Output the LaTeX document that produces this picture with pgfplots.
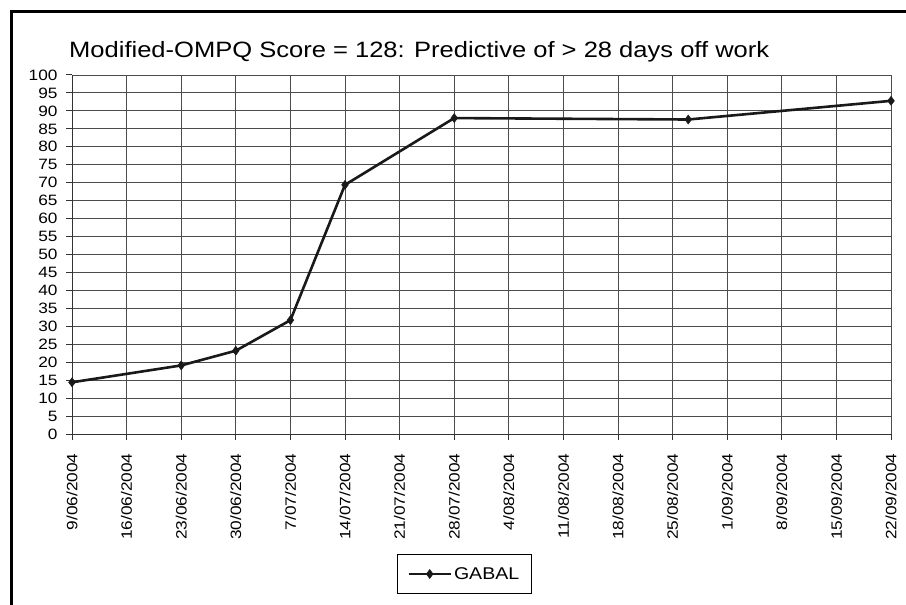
\documentclass[border=0pt]{standalone}
\usepackage{fontspec}
\setmainfont{Liberation Sans}[FakeStretch=1.15]
\usepackage{pgfplots}
\pgfplotsset{compat=1.18}
\begin{document}
\begin{tikzpicture}
\path[use as bounding box] (0,0) rectangle (906bp,605bp);
\fill[white] (0,0) rectangle (906bp,605bp);
\draw[line width=3bp] (11bp,-5bp) -- (11bp,593bp) -- (912bp,593bp);
\node[anchor=base west, font=\fontsize{22.2bp}{26bp}\selectfont, inner sep=0pt] at (69bp,547bp) {Modified-OMPQ Score = 128: Predictive of > 28 days off work};
\begin{axis}[
  at={(72bp,171bp)}, anchor=south west,
  scale only axis, width=819bp, height=359bp,
  xmin=0, xmax=105, ymin=0, ymax=100,
  axis lines=left,
  axis line style={-, line width=1bp, black!80},
  xtick={0,7,...,105},
  xticklabels={9/06/2004,16/06/2004,23/06/2004,30/06/2004,7/07/2004,14/07/2004,21/07/2004,28/07/2004,4/08/2004,11/08/2004,18/08/2004,25/08/2004,1/09/2004,8/09/2004,15/09/2004,22/09/2004},
  ytick={0,5,...,100},
  grid=major,
  major grid style={line width=0.9bp, black!70},
  tick align=outside,
  major tick length=6bp,
  tick style={black!80, line width=1bp},
  xticklabel shift=10bp,
  yticklabel shift=5bp,
  xticklabel style={rotate=90, anchor=east, font=\fontsize{15bp}{15bp}\selectfont},
  yticklabel style={font=\fontsize{15bp}{15bp}\selectfont},
  /pgf/number format/assume math mode=true,
  clip=false,
  legend style={at={(0.479,-0.39)}, anchor=center, draw=black, line width=1bp,
    font=\fontsize{17bp}{17bp}\selectfont, inner xsep=10bp, inner ysep=11bp},
  legend image code/.code={\draw[mark repeat=2,mark phase=2,#1] plot coordinates {(0bp,0bp) (21bp,0bp) (42bp,0bp)};},
]
\addplot[line width=2.6bp, black!90, mark=diamond*, mark size=4.5bp, mark options={solid, line width=0.5bp}]
  coordinates {(0,14.4)(14,19.1)(21,23.2)(28,31.7)(35,69.4)(49,88.0)(79,87.6)(105,92.8)};
\addlegendentry{GABAL}
\end{axis}
\end{tikzpicture}
\end{document}
